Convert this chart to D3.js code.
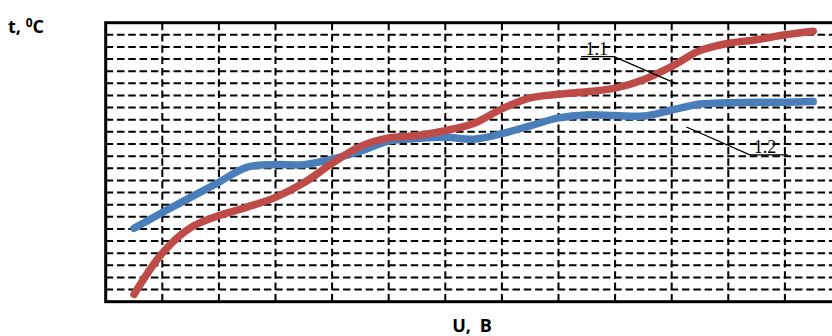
<!DOCTYPE html>
<html lang="ru">
<head>
    <meta charset="UTF-8">
    <title>t(U)</title>
    <script src="https://d3js.org/d3.v7.min.js"></script>
</head>
<body>
<div id='chart'>
    <svg></svg>
</div>
</body>

<style>
    body {
        margin: 0;
        background: #fff;
    }

    svg {
        display: block;
    }

    line.grid {
        stroke: #000;
        stroke-width: 2px;
        stroke-dasharray: 7.5, 3.8;
    }

    path.series {
        fill: none;
        stroke-width: 7.5px;
        stroke-linecap: round;
        stroke-linejoin: round;
    }

    text.axis-title {
        font-family: 'Open Sans', sans-serif;
        font-weight: bold;
        fill: #000;
    }

    text.callout {
        font-family: 'Liberation Serif', serif;
        font-size: 18px;
        fill: #000;
    }
</style>

<script>
    // voltage points, U (grid units)
    const uValues = [0.5, 1, 1.5, 2, 2.5, 3, 3.5, 4, 4.5, 5, 5.5, 6, 6.5,
        7, 7.5, 8, 8.5, 9, 9.5, 10, 10.5, 11, 11.5, 12, 12.5];

    // curve 1.1 (red)
    const t11 = [0.6, 4.0, 6.1, 7.1, 7.8, 8.6, 9.8, 11.4, 12.8, 13.5, 13.7, 14.1, 14.7,
        15.9, 16.8, 17.1, 17.3, 17.6, 18.3, 19.4, 20.7, 21.3, 21.6, 22.0, 22.3];

    // curve 1.2 (blue)
    const t12 = [6.05, 7.35, 8.6, 9.85, 11.1, 11.3, 11.3, 11.75, 12.4, 13.25, 13.45, 13.55, 13.4,
        13.85, 14.5, 15.15, 15.4, 15.35, 15.3, 15.8, 16.3, 16.4, 16.45, 16.45, 16.5];

    // dashed grid positions
    const uGrid = [1, 2, 3, 4, 5, 6, 7, 8, 9, 10, 11, 12];
    const tGrid = [1, 2, 3, 4, 5, 6, 7, 8, 9, 10, 11, 12, 13, 14, 15, 16, 17, 18, 19, 20, 21, 22];

    const width = 832;
    const height = 336;
    const margin = {top: 22.7, right: -9.5, bottom: 34.3, left: 105.7};

    const svg = d3.select('svg')
        .attr('width', width)
        .attr('height', height);

    const x = d3.scaleLinear()
        .domain([0, 13])
        .range([margin.left, width - margin.right]);

    const y = d3.scaleLinear()
        .domain([0, 23])
        .range([height - margin.bottom, margin.top]);

    const gGrid = svg.append('g');

    gGrid.selectAll('line.h')
        .data(tGrid)
        .join('line')
        .attr('class', 'grid h')
        .attr('x1', x(0))
        .attr('x2', x(13))
        .attr('y1', d => y(d))
        .attr('y2', d => y(d));

    gGrid.selectAll('line.v')
        .data(uGrid)
        .join('line')
        .attr('class', 'grid v')
        .attr('x1', d => x(d))
        .attr('x2', d => x(d))
        .attr('y1', y(23))
        .attr('y2', y(0));

    // frame
    svg.append('rect')
        .attr('x', x(0))
        .attr('y', y(23))
        .attr('width', x(13) - x(0))
        .attr('height', y(0) - y(23))
        .attr('fill', 'none')
        .attr('stroke', '#000')
        .attr('stroke-width', 3);

    const line = d3.line()
        .x(d => x(d[0]))
        .y(d => y(d[1]))
        .curve(d3.curveCatmullRom.alpha(0.5));

    svg.append('path')
        .attr('class', 'series')
        .attr('stroke', '#4a7ebb')
        .attr('d', line(d3.zip(uValues, t12)));

    svg.append('path')
        .attr('class', 'series')
        .attr('stroke', '#be4b48')
        .attr('d', line(d3.zip(uValues, t11)));

    // callouts
    const callouts = [
        {name: '1.1', tip: [10.07, 18.0], elbow: [8.98, 20.2], end: [8.4, 20.2], anchor: 'end'},
        {name: '1.2', tip: [10.26, 14.4], elbow: [11.38, 12.1], end: [12.05, 12.1], anchor: 'start'}
    ];

    const gCall = svg.append('g');

    gCall.selectAll('path')
        .data(callouts)
        .join('path')
        .attr('fill', 'none')
        .attr('stroke', '#000')
        .attr('stroke-width', 1.3)
        .attr('d', d => d3.line()([d.tip, d.elbow, d.end].map(p => [x(p[0]), y(p[1])])));

    gCall.selectAll('text')
        .data(callouts)
        .join('text')
        .attr('class', 'callout')
        .attr('x', d => d.anchor === 'end' ? x(d.elbow[0]) - 6 : x(d.elbow[0]) + 4)
        .attr('y', d => y(d.elbow[1]) - 2)
        .attr('text-anchor', d => d.anchor)
        .text(d => d.name);

    // axis titles
    const yTitle = svg.append('text')
        .attr('class', 'axis-title')
        .attr('x', 8)
        .attr('y', 33)
        .style('font-size', '18px');
    yTitle.append('tspan').text('t, ');
    yTitle.append('tspan').attr('dy', -6).style('font-size', '12px').text('0');
    yTitle.append('tspan').attr('dy', 6).text('C');

    svg.append('text')
        .attr('class', 'axis-title')
        .attr('x', 472)
        .attr('y', 332)
        .attr('text-anchor', 'middle')
        .style('font-size', '18px')
        .attr('word-spacing', '4px')
        .text('U, B');
</script>
</html>
